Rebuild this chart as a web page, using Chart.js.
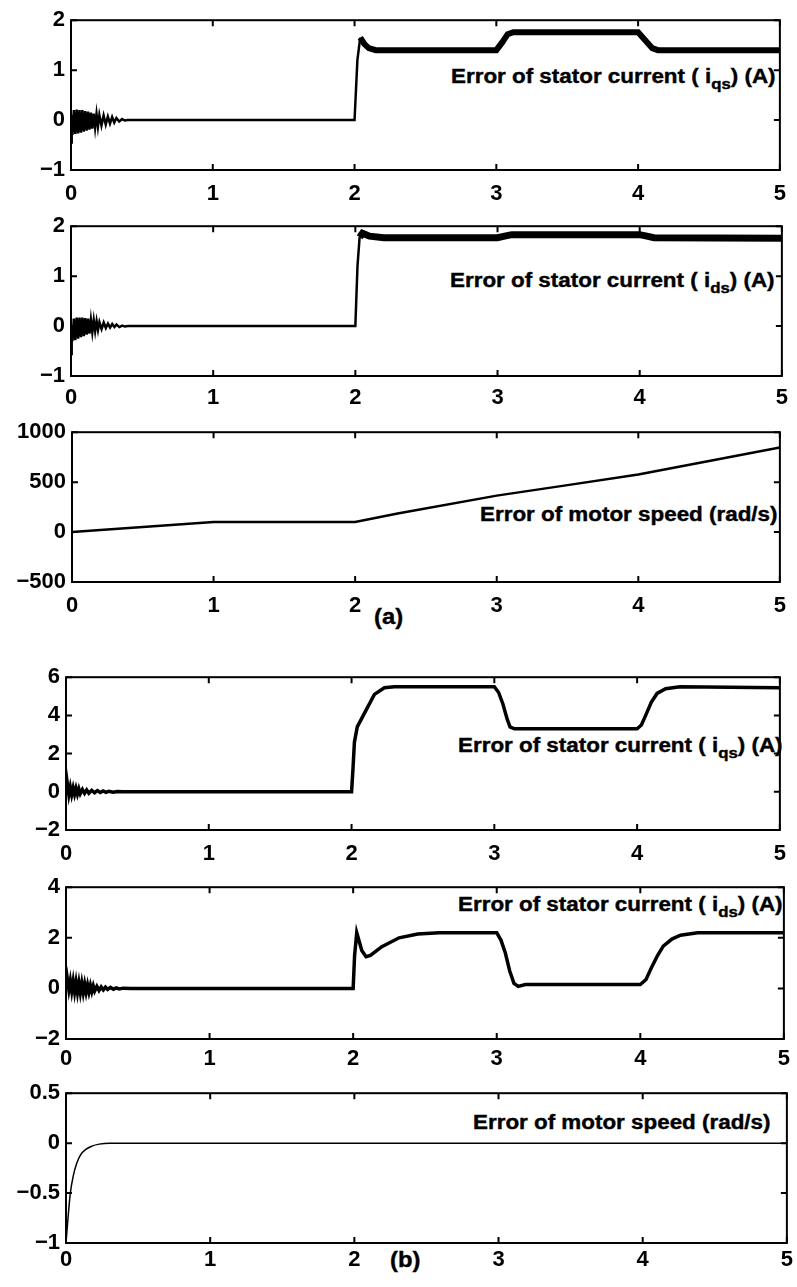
<!DOCTYPE html>
<html>
<head>
<meta charset="utf-8">
<script src="https://cdn.jsdelivr.net/npm/chart.js@4.4.1/dist/chart.umd.min.js"></script>
<style>
    body {
        margin: 0;
        background: #fff;
        width: 797px;
        height: 1287px;
        position: relative;
        overflow: hidden;
        font-family: 'Liberation Sans', Arial, sans-serif;
    }
    canvas { position: absolute; left: 0; }
    .note {
        position: absolute;
        font-weight: bold;
        font-size: 20px;
        line-height: 20px;
        white-space: nowrap;
        color: #000;
        -webkit-text-stroke: 0.4px #000;
        transform: scaleX(1.12);
        transform-origin: 0 0;
    }
    .note sub { font-size: 15px; line-height: 0; vertical-align: -6px; }
    .tag { font-size: 22px; line-height: 22px; transform: scaleX(1.08); }
</style>
</head>
<body>

<div class="note" style="left:451px; top:66px">Error of stator current ( i<sub>qs</sub>) (A)</div>
<div class="note" style="left:450px; top:270px">Error of stator current ( i<sub>ds</sub>) (A)</div>
<div class="note" style="left:480px; top:504px">Error of motor speed (rad/s)</div>
<div class="note tag" style="left:374px; top:606px">(a)</div>
<div class="note" style="left:458px; top:735px">Error of stator current ( i<sub>qs</sub>) (A)</div>
<div class="note" style="left:458px; top:894px">Error of stator current ( i<sub>ds</sub>) (A)</div>
<div class="note" style="left:473px; top:1112px">Error of motor speed (rad/s)</div>
<div class="note tag" style="left:390px; top:1249px">(b)</div>

<script>
// ---- data (time in s) ----

// shared x axis
const xTicks = [0, 1, 2, 3, 4, 5];
const xLabels = ['0', '1', '2', '3', '4', '5'];

// (a) stator current i_qs error
const aIqsTime = [0, 0.005, 0.01, 0.02, 0.03, 0.04, 0.05, 0.06, 0.07, 0.08, 0.09, 0.10, 0.11, 0.12, 0.13, 0.14, 0.15, 0.16, 0.17, 0.18, 0.19, 0.20,
    0.215, 0.23, 0.245, 0.26, 0.275, 0.29, 0.305, 0.32, 0.34, 0.36, 0.38, 0.40,
    2.0, 2.02, 2.04, 2.07, 2.1, 2.15, 3.0, 3.04, 3.08, 3.12, 4.0, 4.05, 4.1, 4.14, 5.0];
const aIqsValue = [-0.45, 0.1, -0.3, 0.2, -0.28, 0.21, -0.27, 0.2, -0.25, 0.2, -0.23, 0.18, -0.21, 0.17, -0.19, 0.15, -0.17, 0.13, -0.15, 0.12, -0.13, 0.1,
    -0.11, 0.09, -0.09, 0.07, -0.07, 0.06, -0.05, 0.04, -0.03, 0.02, -0.01, 0,
    0, 1.2, 1.65, 1.52, 1.44, 1.4, 1.4, 1.55, 1.72, 1.76, 1.76, 1.6, 1.44, 1.4, 1.4];
const aIqsYTicks = [-1, 0, 1, 2];
const aIqsYLabels = ['\u22121', '0', '1', '2'];

// (a) stator current i_ds error
const aIdsTime = [0, 0.005, 0.01, 0.02, 0.03, 0.04, 0.05, 0.06, 0.07, 0.08, 0.09, 0.10, 0.11, 0.12, 0.13, 0.14, 0.15, 0.16, 0.17, 0.18, 0.19, 0.20,
    0.215, 0.23, 0.245, 0.26, 0.275, 0.29, 0.305, 0.32, 0.34, 0.36, 0.38, 0.40,
    2.0, 2.015, 2.03, 2.05, 2.1, 2.2, 3.0, 3.05, 3.1, 4.0, 4.05, 4.1, 5.0];
const aIdsValue = [-0.56, 0.0, -0.3, 0.15, -0.28, 0.17, -0.25, 0.17, -0.22, 0.17, -0.2, 0.16, -0.17, 0.15, -0.15, 0.13, -0.12, 0.12, -0.1, 0.1, -0.08, 0.08,
    -0.06, 0.07, -0.04, 0.05, -0.03, 0.04, -0.02, 0.03, -0.02, 0.01, -0.01, 0,
    0, 1.2, 1.78, 1.86, 1.8, 1.77, 1.77, 1.8, 1.83, 1.83, 1.8, 1.77, 1.76];
const aIdsYTicks = [-1, 0, 1, 2];
const aIdsYLabels = ['\u22121', '0', '1', '2'];

// (a) motor speed error
const aSpeedTime = [0, 1, 2, 2.3, 3, 3.5, 4, 4.5, 5];
const aSpeedValue = [0, 100, 100, 185, 365, 470, 577, 712, 846];
const aSpeedYTicks = [-500, 0, 500, 1000];
const aSpeedYLabels = ['\u2212500', '0', '500', '1000'];

// (b) stator current i_qs error
const bIqsTime = [0, 0.005, 0.01, 0.02, 0.03, 0.04, 0.05, 0.06, 0.07, 0.08, 0.09, 0.10, 0.115, 0.13, 0.145, 0.16, 0.18, 0.2, 0.22, 0.24, 0.26, 0.28, 0.3, 0.33, 0.36, 0.4,
    2.0, 2.01, 2.02, 2.04, 2.1, 2.16, 2.23, 2.3, 3.0, 3.03, 3.06, 3.09, 3.11, 3.14, 4.0, 4.03, 4.06, 4.1, 4.14, 4.2, 4.3, 5.0];
const bIqsValue = [0.55, -0.1, 0.4, -0.15, 0.25, -0.15, 0.2, -0.13, 0.18, -0.12, 0.15, -0.1, 0.12, -0.08, 0.1, -0.07, 0.08, -0.05, 0.06, -0.04, 0.04, -0.03, 0.03, -0.02, 0.02, 0,
    0, 1.2, 2.6, 3.4, 4.25, 5.1, 5.45, 5.5, 5.5, 5.2, 4.6, 3.8, 3.4, 3.3, 3.3, 3.5, 4.0, 4.7, 5.15, 5.4, 5.5, 5.45];
const bIqsYTicks = [-2, 0, 2, 4, 6];
const bIqsYLabels = ['\u22122', '0', '2', '4', '6'];

// (b) stator current i_ds error
const bIdsTime = [0, 0.005, 0.01, 0.02, 0.03, 0.04, 0.05, 0.06, 0.07, 0.08, 0.09, 0.1, 0.11, 0.12, 0.13, 0.14, 0.15, 0.16, 0.17, 0.18, 0.19, 0.2,
    0.215, 0.23, 0.245, 0.26, 0.275, 0.29, 0.31, 0.33, 0.35, 0.37, 0.4, 0.45,
    2.0, 2.01, 2.025, 2.04, 2.06, 2.09, 2.12, 2.2, 2.32, 2.45, 2.6, 3.0, 3.03, 3.06, 3.09, 3.12, 3.15, 3.2,
    4.0, 4.04, 4.08, 4.12, 4.16, 4.22, 4.28, 4.4, 5.0];
const bIdsValue = [0.5, 0.1, 0.35, -0.05, 0.3, -0.1, 0.28, -0.13, 0.25, -0.15, 0.22, -0.16, 0.2, -0.16, 0.17, -0.15, 0.14, -0.14, 0.12, -0.12, 0.1, -0.1,
    0.08, -0.08, 0.06, -0.06, 0.05, -0.04, 0.04, -0.03, 0.02, -0.02, 0.01, 0,
    0, 1.3, 2.2, 1.9, 1.5, 1.25, 1.3, 1.65, 2.0, 2.15, 2.2, 2.2, 1.9, 1.4, 0.7, 0.2, 0.08, 0.15,
    0.15, 0.35, 0.85, 1.3, 1.67, 1.95, 2.1, 2.2, 2.2];
const bIdsYTicks = [-2, 0, 2, 4];
const bIdsYLabels = ['\u22122', '0', '2', '4'];

// (b) motor speed error
const bSpeedTime = [0, 0.01, 0.02, 0.03, 0.05, 0.075, 0.1, 0.14, 0.18, 0.23, 0.3, 5.0];
const bSpeedValue = [-1, -0.82, -0.65, -0.5, -0.33, -0.2, -0.12, -0.06, -0.03, -0.01, 0, 0];
const bSpeedYTicks = [-1, -0.5, 0, 0.5];
const bSpeedYLabels = ['\u22121', '\u22120.5', '0', '0.5'];

// ---- layout of the six panels: plot box [left, top, right, bottom] ----
const PANELS = [
    { t: aIqsTime,   v: aIqsValue,   yTicks: aIqsYTicks,   yLabels: aIqsYLabels,   box: [71, 15, 787, 170],    xPad: 11, width: 2.5, thickFrom: 2.04, thickWidth: 6 },
    { t: aIdsTime,   v: aIdsValue,   yTicks: aIdsYTicks,   yLabels: aIdsYLabels,   box: [71, 221, 787, 376],   xPad: 9, width: 2.5, thickFrom: 2.03, thickWidth: 7 },
    { t: aSpeedTime, v: aSpeedValue, yTicks: aSpeedYTicks, yLabels: aSpeedYLabels, box: [72, 427, 787, 582],   xPad: 11, width: 2.5 },
    { t: bIqsTime,   v: bIqsValue,   yTicks: bIqsYTicks,   yLabels: bIqsYLabels,   box: [66, 672, 787, 830],   xPad: 11, width: 3.5 },
    { t: bIdsTime,   v: bIdsValue,   yTicks: bIdsYTicks,   yLabels: bIdsYLabels,   box: [66, 882, 787, 1039],  xPad: 7, width: 3.5 },
    { t: bSpeedTime, v: bSpeedValue, yTicks: bSpeedYTicks, yLabels: bSpeedYLabels, box: [66, 1088, 787, 1243], xPad: 4, width: 1.5, smooth: true }
];

const PAGE_W = 797;
const PAD_TOP = 14;
const AXIS_H = 36;
const TICK = 6;

Chart.defaults.font = { family: "'Liberation Sans', Arial, sans-serif", size: 22, weight: 'bold' };
Chart.defaults.color = '#000';

// box frame with inward ticks on all four sides, like the matlab axes
const frameTicks = {
    id: 'frameTicks',
    afterDatasetsDraw(chart) {
        const { ctx, chartArea: a, scales } = chart;
        ctx.save();
        ctx.strokeStyle = '#000';
        ctx.lineWidth = 2;
        ctx.strokeRect(a.left, a.top, a.right - a.left, a.bottom - a.top);
        ctx.beginPath();
        scales.x.ticks.forEach((t, i) => {
            const x = scales.x.getPixelForTick(i);
            ctx.moveTo(x, a.top); ctx.lineTo(x, a.top + TICK);
            ctx.moveTo(x, a.bottom); ctx.lineTo(x, a.bottom - TICK);
        });
        scales.y.ticks.forEach((t, i) => {
            const y = scales.y.getPixelForTick(i);
            ctx.moveTo(a.left, y); ctx.lineTo(a.left + TICK, y);
            ctx.moveTo(a.right, y); ctx.lineTo(a.right - TICK, y);
        });
        ctx.stroke();
        ctx.restore();
    }
};

function makePanel(p) {
    const [left, top, right, bottom] = p.box;
    const h = bottom - top + PAD_TOP + AXIS_H;
    const canvas = document.createElement('canvas');
    canvas.width = PAGE_W;
    canvas.height = h;
    canvas.style.top = (top - PAD_TOP) + 'px';
    canvas.style.width = PAGE_W + 'px';
    canvas.style.height = h + 'px';
    document.body.appendChild(canvas);

    const points = p.t.map((t, i) => ({ x: t, y: p.v[i] }));
    const yMin = p.yTicks[0];
    const yMax = p.yTicks[p.yTicks.length - 1];

    return new Chart(canvas, {
        type: 'line',
        data: {
            datasets: [{
                data: points,
                borderColor: '#000',
                borderWidth: p.width,
                pointRadius: 0,
                tension: 0,
                cubicInterpolationMode: p.smooth ? 'monotone' : 'default',
                fill: false,
                segment: {
                    borderWidth: ctx => (p.thickFrom && ctx.p0.parsed.x >= p.thickFrom) ? p.thickWidth : p.width
                }
            }]
        },
        options: {
            responsive: false,
            devicePixelRatio: 1,
            animation: false,
            layout: { padding: { top: PAD_TOP, right: PAGE_W - right, left: 0, bottom: 0 } },
            plugins: { legend: { display: false }, tooltip: { enabled: false } },
            scales: {
                x: {
                    type: 'linear',
                    min: 0,
                    max: 5,
                    grid: { display: false, drawTicks: false },
                    border: { display: false },
                    afterBuildTicks: s => { s.ticks = xTicks.map(v => ({ value: v })); },
                    afterFit: s => { s.height = AXIS_H; },
                    ticks: {
                        autoSkip: false,
                        maxRotation: 0,
                        padding: p.xPad,
                        callback: v => xLabels[xTicks.indexOf(v)]
                    }
                },
                y: {
                    min: yMin,
                    max: yMax,
                    grid: { display: false, drawTicks: false },
                    border: { display: false },
                    afterBuildTicks: s => { s.ticks = p.yTicks.map(v => ({ value: v })); },
                    afterFit: s => { s.width = left; },
                    ticks: {
                        autoSkip: false,
                        padding: 6,
                        callback: v => p.yLabels[p.yTicks.indexOf(v)]
                    }
                }
            }
        },
        plugins: [frameTicks]
    });
}

PANELS.forEach(makePanel);
</script>
</body>
</html>
